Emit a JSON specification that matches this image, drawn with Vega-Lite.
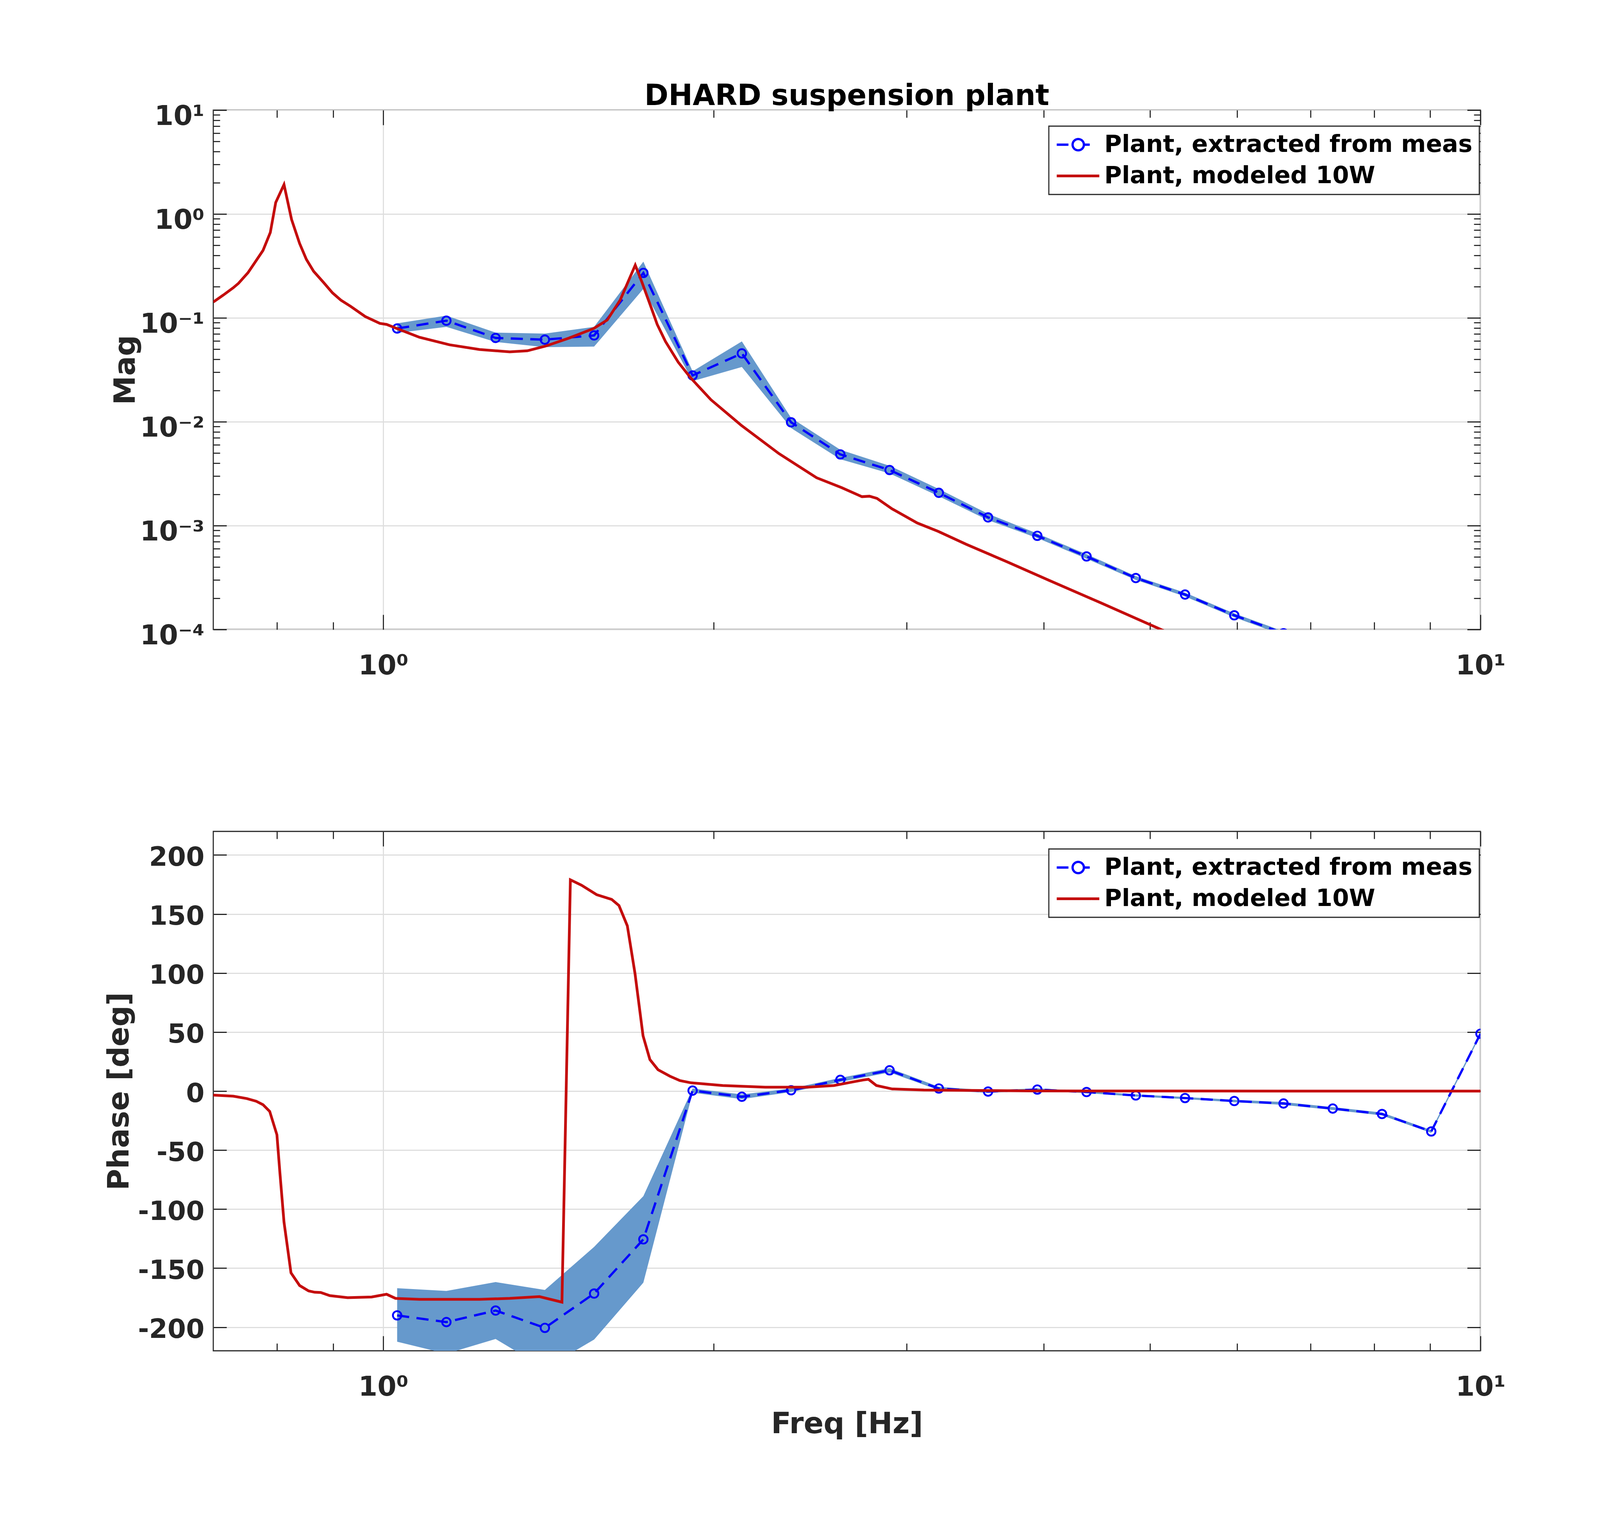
{
  "$schema": "https://vega.github.io/schema/vega-lite/v6.json",
  "autosize": {"type": "pad"},
  "padding": {"left": 266, "top": 208, "right": 332, "bottom": 207},
  "background": "#ffffff",
  "datasets": {
    "meas": [
      {"f": 1.0296, "mag": 0.079, "magLo": 0.0717, "magHi": 0.0885, "ph": -190, "phLo": -212.3, "phHi": -167},
      {"f": 1.1417, "mag": 0.094, "magLo": 0.082, "magHi": 0.105, "ph": -195.7, "phLo": -222.5, "phHi": -169.3},
      {"f": 1.266, "mag": 0.0641, "magLo": 0.0586, "magHi": 0.0722, "ph": -185.9, "phLo": -210, "phHi": -161.8},
      {"f": 1.4038, "mag": 0.0617, "magLo": 0.0523, "magHi": 0.0706, "ph": -200.6, "phLo": -235, "phHi": -168.5},
      {"f": 1.5566, "mag": 0.0678, "magLo": 0.0529, "magHi": 0.082, "ph": -171.5, "phLo": -210.5, "phHi": -132},
      {"f": 1.7261, "mag": 0.271, "magLo": 0.19, "magHi": 0.348, "ph": -125.6, "phLo": -162.3, "phHi": -89},
      {"f": 1.914, "mag": 0.0279, "magLo": 0.0246, "magHi": 0.0306, "ph": 0.4, "phLo": -1.4, "phHi": 2.2},
      {"f": 2.1224, "mag": 0.0455, "magLo": 0.0337, "magHi": 0.0593, "ph": -4.8, "phLo": -6.8, "phHi": -2.8},
      {"f": 2.3535, "mag": 0.00988, "magLo": 0.0087, "magHi": 0.0109, "ph": 0.7, "phLo": -0.8, "phHi": 2.2},
      {"f": 2.6097, "mag": 0.00485, "magLo": 0.00436, "magHi": 0.00537, "ph": 9.5, "phLo": 7.8, "phHi": 11.2},
      {"f": 2.8938, "mag": 0.00343, "magLo": 0.00318, "magHi": 0.00377, "ph": 17.6, "phLo": 15.8, "phHi": 19.4},
      {"f": 3.2089, "mag": 0.00207, "magLo": 0.00192, "magHi": 0.00225, "ph": 2.2, "phLo": 0.8, "phHi": 3.6},
      {"f": 3.5582, "mag": 0.0012, "magLo": 0.00113, "magHi": 0.0013, "ph": -0.4, "phLo": -1.5, "phHi": 0.7},
      {"f": 3.9456, "mag": 0.000798, "magLo": 0.00076, "magHi": 0.00084, "ph": 1.3, "phLo": 0.3, "phHi": 2.3},
      {"f": 4.3751, "mag": 0.000505, "magLo": 0.00048, "magHi": 0.00053, "ph": -0.8, "phLo": -1.7, "phHi": 0.1},
      {"f": 4.8514, "mag": 0.000313, "magLo": 0.0003, "magHi": 0.000327, "ph": -3.7, "phLo": -4.6, "phHi": -2.8},
      {"f": 5.3796, "mag": 0.000217, "magLo": 0.000208, "magHi": 0.000226, "ph": -5.9, "phLo": -6.8, "phHi": -5},
      {"f": 5.9652, "mag": 0.000137, "magLo": 0.000131, "magHi": 0.000143, "ph": -8.4, "phLo": -9.4, "phHi": -7.4},
      {"f": 6.6147, "mag": 0.000092, "magLo": 0.000088, "magHi": 0.000096, "ph": -10.5, "phLo": -11.7, "phHi": -9.3},
      {"f": 7.3348, "mag": 0.000062, "magLo": 0.000059, "magHi": 0.000065, "ph": -14.8, "phLo": -16, "phHi": -13.6},
      {"f": 8.1333, "mag": 0.000042, "magLo": 0.00004, "magHi": 0.000044, "ph": -19.4, "phLo": -20.6, "phHi": -18.2},
      {"f": 9.0187, "mag": 0.00003, "magLo": 0.000028, "magHi": 0.000032, "ph": -34.2, "phLo": -35.4, "phHi": -33},
      {"f": 10.0, "mag": 0.00002, "magLo": 0.000019, "magHi": 0.000021, "ph": 48.6, "phLo": 47.4, "phHi": 49.8}
    ],
    "modelMag": [
      {"f": 0.700, "mag": 0.142}, {"f": 0.715, "mag": 0.166}, {"f": 0.730, "mag": 0.195},
      {"f": 0.738, "mag": 0.215}, {"f": 0.753, "mag": 0.273}, {"f": 0.763, "mag": 0.335},
      {"f": 0.777, "mag": 0.446}, {"f": 0.789, "mag": 0.664}, {"f": 0.798, "mag": 1.29},
      {"f": 0.812, "mag": 1.92}, {"f": 0.825, "mag": 0.885}, {"f": 0.839, "mag": 0.521},
      {"f": 0.851, "mag": 0.366}, {"f": 0.864, "mag": 0.281}, {"f": 0.882, "mag": 0.220},
      {"f": 0.899, "mag": 0.174}, {"f": 0.915, "mag": 0.148}, {"f": 0.934, "mag": 0.129},
      {"f": 0.963, "mag": 0.103}, {"f": 0.993, "mag": 0.0885}, {"f": 1.007, "mag": 0.0865},
      {"f": 1.026, "mag": 0.080}, {"f": 1.079, "mag": 0.065}, {"f": 1.149, "mag": 0.0551},
      {"f": 1.224, "mag": 0.0496}, {"f": 1.304, "mag": 0.0471}, {"f": 1.353, "mag": 0.0482},
      {"f": 1.406, "mag": 0.0535}, {"f": 1.478, "mag": 0.0641}, {"f": 1.555, "mag": 0.079},
      {"f": 1.600, "mag": 0.0953}, {"f": 1.644, "mag": 0.148}, {"f": 1.672, "mag": 0.224},
      {"f": 1.697, "mag": 0.322}, {"f": 1.720, "mag": 0.224}, {"f": 1.750, "mag": 0.136},
      {"f": 1.777, "mag": 0.0865}, {"f": 1.808, "mag": 0.0593}, {"f": 1.857, "mag": 0.0375},
      {"f": 1.906, "mag": 0.0265}, {"f": 1.989, "mag": 0.0163}, {"f": 2.119, "mag": 0.00927},
      {"f": 2.294, "mag": 0.00494}, {"f": 2.483, "mag": 0.00289}, {"f": 2.617, "mag": 0.00232},
      {"f": 2.731, "mag": 0.0019}, {"f": 2.774, "mag": 0.00192}, {"f": 2.818, "mag": 0.00183},
      {"f": 2.909, "mag": 0.00145}, {"f": 3.067, "mag": 0.00106}, {"f": 3.205, "mag": 0.00088},
      {"f": 3.40, "mag": 0.00066}, {"f": 3.70, "mag": 0.00045}, {"f": 4.045, "mag": 0.000297},
      {"f": 4.5, "mag": 0.000182}, {"f": 5.115, "mag": 0.0001}, {"f": 6.5, "mag": 0.0000325},
      {"f": 8.0, "mag": 0.0000121}, {"f": 10.0, "mag": 0.0000044}
    ],
    "modelPhase": [
      {"f": 0.700, "ph": -3.4}, {"f": 0.730, "ph": -4.3}, {"f": 0.751, "ph": -6.3},
      {"f": 0.766, "ph": -8.6}, {"f": 0.777, "ph": -11.5}, {"f": 0.788, "ph": -17.2},
      {"f": 0.800, "ph": -37}, {"f": 0.805, "ph": -69}, {"f": 0.812, "ph": -111},
      {"f": 0.824, "ph": -154}, {"f": 0.839, "ph": -164.7}, {"f": 0.855, "ph": -169.3},
      {"f": 0.866, "ph": -170.4}, {"f": 0.877, "ph": -170.6}, {"f": 0.894, "ph": -173.3},
      {"f": 0.928, "ph": -175}, {"f": 0.976, "ph": -174.4}, {"f": 1.007, "ph": -172.1},
      {"f": 1.026, "ph": -175.6}, {"f": 1.079, "ph": -176.4}, {"f": 1.224, "ph": -176.4},
      {"f": 1.304, "ph": -175.6}, {"f": 1.388, "ph": -174.1}, {"f": 1.455, "ph": -178.8},
      {"f": 1.481, "ph": 179}, {"f": 1.516, "ph": 174.4}, {"f": 1.565, "ph": 166.4},
      {"f": 1.615, "ph": 162.4}, {"f": 1.640, "ph": 157.2}, {"f": 1.669, "ph": 140},
      {"f": 1.696, "ph": 99.8}, {"f": 1.725, "ph": 46.8}, {"f": 1.750, "ph": 26.7},
      {"f": 1.780, "ph": 18.1}, {"f": 1.825, "ph": 12.6}, {"f": 1.864, "ph": 8.9},
      {"f": 1.908, "ph": 7.0}, {"f": 2.039, "ph": 4.7}, {"f": 2.229, "ph": 3.3},
      {"f": 2.436, "ph": 3.3}, {"f": 2.575, "ph": 4.7}, {"f": 2.663, "ph": 7.3},
      {"f": 2.737, "ph": 9.4}, {"f": 2.768, "ph": 10.0}, {"f": 2.815, "ph": 4.7},
      {"f": 2.910, "ph": 1.8}, {"f": 3.11, "ph": 0.9}, {"f": 3.88, "ph": 0.2},
      {"f": 5.0, "ph": 0.05}, {"f": 10.0, "ph": 0}
    ]
  },
  "config": {
    "font": "DejaVu Sans",
    "view": {"stroke": "#262626", "strokeWidth": 2.8},
    "axis": {
      "labelFont": "DejaVu Sans", "labelFontWeight": "bold", "labelFontSize": 70, "labelColor": "#262626",
      "titleFont": "DejaVu Sans", "titleFontWeight": "bold", "titleFontSize": 75, "titleColor": "#262626",
      "tickColor": "#262626", "tickWidth": 2.8, "gridColor": "#dedede", "gridWidth": 2.8,
      "domain": false, "labelFlush": false, "labelOverlap": false, "labelBound": false, "labelLimit": 0
    }
  },
  "spacing": 517,
  "bounds": "flush",
  "resolve": {"scale": {"color": "independent"}, "legend": {"color": "independent"}},
  "vconcat": [
    {
      "width": 3244,
      "height": 1330,
      "title": {"text": "DHARD suspension plant", "font": "DejaVu Sans", "fontSize": 74, "fontWeight": "bold", "color": "#000000", "anchor": "middle", "frame": "group", "baseline": "alphabetic", "offset": -80},
      "resolve": {"axis": {"x": "independent", "y": "independent"}},
      "layer": [
        {
          "data": {"name": "meas"},
          "mark": {"type": "area", "color": "#6699cc", "opacity": 1, "clip": true},
          "encoding": {
            "x": {"field": "f", "type": "quantitative", "scale": {"type": "log", "domain": [0.7, 10], "nice": false},
              "axis": {"orient": "bottom", "title": null, "values": [0.8, 0.9, 1, 2, 3, 4, 5, 6, 7, 8, 9, 10],
                "labelExpr": "datum.value == 1 ? '10⁰' : datum.value == 10 ? '10¹' : ''",
                "grid": true, "gridOpacity": {"condition": {"test": "datum.value == 1 || datum.value == 10", "value": 1}, "value": 0},
                "tickSize": {"condition": {"test": "datum.value == 1 || datum.value == 10", "value": -38}, "value": -19},
                "labelPadding": 152, "labelBaseline": "alphabetic", "labelAlign": "center"}},
            "y": {"field": "magLo", "type": "quantitative", "scale": {"type": "log", "domain": [0.0001, 10], "nice": false},
              "axis": {"orient": "left", "title": "Mag", "titleX": -202, "titleY": 665, "titleAlign": "center", "titleBaseline": "alphabetic", "titleAngle": 270,
                "values": [0.0001, 0.0002, 0.0003, 0.0004, 0.0005, 0.0006, 0.0007, 0.0008, 0.0009, 0.001, 0.002, 0.003, 0.004, 0.005, 0.006, 0.007, 0.008, 0.009, 0.01, 0.02, 0.03, 0.04, 0.05, 0.06, 0.07, 0.08, 0.09, 0.1, 0.2, 0.3, 0.4, 0.5, 0.6, 0.7, 0.8, 0.9, 1, 2, 3, 4, 5, 6, 7, 8, 9, 10],
                "labelExpr": "datum.value == 10 ? '10¹' : datum.value == 1 ? '10⁰' : datum.value == 0.1 ? '10⁻¹' : datum.value == 0.01 ? '10⁻²' : datum.value == 0.001 ? '10⁻³' : datum.value == 0.0001 ? '10⁻⁴' : ''",
                "grid": true, "gridOpacity": {"condition": {"test": "indexof([0.0001, 0.001, 0.01, 0.1, 1, 10], datum.value) >= 0", "value": 1}, "value": 0},
                "tickSize": {"condition": {"test": "indexof([0.0001, 0.001, 0.01, 0.1, 1, 10], datum.value) >= 0", "value": -34}, "value": -17},
                "labelPadding": 57, "labelBaseline": "alphabetic", "labelOffset": 37}},
            "y2": {"field": "magHi"}
          }
        },
        {
          "data": {"name": "meas"},
          "mark": {"type": "line", "strokeDash": [31, 19], "strokeWidth": 5.8, "clip": true},
          "encoding": {
            "x": {"field": "f", "type": "quantitative", "scale": {"type": "log", "domain": [0.7, 10], "nice": false},
              "axis": {"orient": "top", "title": null, "labels": false, "grid": false, "values": [0.8, 0.9, 1, 2, 3, 4, 5, 6, 7, 8, 9, 10],
                "tickSize": {"condition": {"test": "datum.value == 1 || datum.value == 10", "value": -38}, "value": -19}}},
            "y": {"field": "mag", "type": "quantitative", "scale": {"type": "log", "domain": [0.0001, 10], "nice": false},
              "axis": {"orient": "right", "title": null, "labels": false, "grid": false,
                "values": [0.0001, 0.0002, 0.0003, 0.0004, 0.0005, 0.0006, 0.0007, 0.0008, 0.0009, 0.001, 0.002, 0.003, 0.004, 0.005, 0.006, 0.007, 0.008, 0.009, 0.01, 0.02, 0.03, 0.04, 0.05, 0.06, 0.07, 0.08, 0.09, 0.1, 0.2, 0.3, 0.4, 0.5, 0.6, 0.7, 0.8, 0.9, 1, 2, 3, 4, 5, 6, 7, 8, 9, 10],
                "tickSize": {"condition": {"test": "indexof([0.0001, 0.001, 0.01, 0.1, 1, 10], datum.value) >= 0", "value": -34}, "value": -17}}},
            "color": {"datum": "Plant, extracted from meas", "type": "nominal",
              "scale": {"domain": ["Plant, extracted from meas", "Plant, modeled 10W"], "range": ["#0000ff", "#c40d0d"]},
              "legend": {"orient": "none", "legendX": 2139, "legendY": 41, "title": null,
                "labelFont": "DejaVu Sans", "labelFontSize": 61, "labelFontWeight": "bold", "labelColor": "#000000", "labelLimit": 0,
                "labelOffset": 64, "symbolSize": 2970, "symbolStrokeWidth": 5.8, "symbolType": "M-1,0H3",
                "padding": 17, "rowPadding": 18, "strokeColor": "#262626", "fillColor": "#ffffff", "cornerRadius": 0,
                "encode": {
                  "legend": {"update": {"strokeWidth": {"value": 2.8}}},
                  "symbols": {"update": {
                    "shape": {"signal": "datum.value == 'Plant, modeled 10W' ? 'M-1,0H3' : 'M-1,0H0.1M0.49,0A0.53,0.53 0 1,1 1.55,0A0.53,0.53 0 1,1 0.49,0M1.55,0H2.1'"},
                    "stroke": {"signal": "datum.value == 'Plant, modeled 10W' ? '#c40d0d' : '#0000ff'"},
                    "strokeWidth": {"signal": "datum.value == 'Plant, modeled 10W' ? 7 : 5.8"},
                    "strokeDash": {"value": [1, 0]},
                    "fill": {"value": "transparent"},
                    "opacity": {"value": 1}}}}}}
          }
        },
        {
          "data": {"name": "meas"},
          "mark": {"type": "point", "shape": "circle", "filled": false, "color": "#0000ff", "size": 470, "strokeWidth": 4.7, "opacity": 1, "clip": true},
          "encoding": {
            "x": {"field": "f", "type": "quantitative", "scale": {"type": "log", "domain": [0.7, 10], "nice": false}, "axis": null},
            "y": {"field": "mag", "type": "quantitative", "scale": {"type": "log", "domain": [0.0001, 10], "nice": false}, "axis": null}
          }
        },
        {
          "data": {"name": "modelMag"},
          "mark": {"type": "line", "strokeWidth": 7, "clip": true},
          "encoding": {
            "x": {"field": "f", "type": "quantitative", "scale": {"type": "log", "domain": [0.7, 10], "nice": false}, "axis": null},
            "y": {"field": "mag", "type": "quantitative", "scale": {"type": "log", "domain": [0.0001, 10], "nice": false}, "axis": null},
            "color": {"datum": "Plant, modeled 10W", "type": "nominal"}
          }
        }
      ]
    },
    {
      "width": 3244,
      "height": 1330,
      "resolve": {"axis": {"x": "independent", "y": "independent"}},
      "layer": [
        {
          "data": {"name": "meas"},
          "mark": {"type": "area", "color": "#6699cc", "opacity": 1, "clip": true},
          "encoding": {
            "x": {"field": "f", "type": "quantitative", "scale": {"type": "log", "domain": [0.7, 10], "nice": false},
              "axis": {"orient": "bottom", "title": "Freq [Hz]", "titleY": 210, "titleBaseline": "alphabetic", "values": [0.8, 0.9, 1, 2, 3, 4, 5, 6, 7, 8, 9, 10],
                "labelExpr": "datum.value == 1 ? '10⁰' : datum.value == 10 ? '10¹' : ''",
                "grid": true, "gridOpacity": {"condition": {"test": "datum.value == 1 || datum.value == 10", "value": 1}, "value": 0},
                "tickSize": {"condition": {"test": "datum.value == 1 || datum.value == 10", "value": -38}, "value": -19},
                "labelPadding": 152, "labelBaseline": "alphabetic", "labelAlign": "center"}},
            "y": {"field": "phLo", "type": "quantitative", "scale": {"domain": [-220, 220], "nice": false, "zero": false},
              "axis": {"orient": "left", "title": "Phase [deg]", "titleX": -218, "titleY": 665, "titleAlign": "center", "titleBaseline": "alphabetic", "titleAngle": 270,
                "values": [-200, -150, -100, -50, 0, 50, 100, 150, 200], "labelExpr": "'' + datum.value",
                "grid": true, "tickSize": -34, "labelPadding": 57, "labelBaseline": "alphabetic", "labelOffset": 27, "labelFontSize": 68}},
            "y2": {"field": "phHi"}
          }
        },
        {
          "data": {"name": "meas"},
          "mark": {"type": "line", "strokeDash": [31, 19], "strokeWidth": 5.8, "clip": true},
          "encoding": {
            "x": {"field": "f", "type": "quantitative", "scale": {"type": "log", "domain": [0.7, 10], "nice": false},
              "axis": {"orient": "top", "title": null, "labels": false, "grid": false, "values": [0.8, 0.9, 1, 2, 3, 4, 5, 6, 7, 8, 9, 10],
                "tickSize": {"condition": {"test": "datum.value == 1 || datum.value == 10", "value": -38}, "value": -19}}},
            "y": {"field": "ph", "type": "quantitative", "scale": {"domain": [-220, 220], "nice": false, "zero": false},
              "axis": {"orient": "right", "title": null, "labels": false, "grid": false,
                "values": [-200, -150, -100, -50, 0, 50, 100, 150, 200], "tickSize": -34}},
            "color": {"datum": "Plant, extracted from meas", "type": "nominal",
              "scale": {"domain": ["Plant, extracted from meas", "Plant, modeled 10W"], "range": ["#0000ff", "#c40d0d"]},
              "legend": {"orient": "none", "legendX": 2139, "legendY": 45, "title": null,
                "labelFont": "DejaVu Sans", "labelFontSize": 61, "labelFontWeight": "bold", "labelColor": "#000000", "labelLimit": 0,
                "labelOffset": 64, "symbolSize": 2970, "symbolStrokeWidth": 5.8, "symbolType": "M-1,0H3",
                "padding": 17, "rowPadding": 18, "strokeColor": "#262626", "fillColor": "#ffffff", "cornerRadius": 0,
                "encode": {
                  "legend": {"update": {"strokeWidth": {"value": 2.8}}},
                  "symbols": {"update": {
                    "shape": {"signal": "datum.value == 'Plant, modeled 10W' ? 'M-1,0H3' : 'M-1,0H0.1M0.49,0A0.53,0.53 0 1,1 1.55,0A0.53,0.53 0 1,1 0.49,0M1.55,0H2.1'"},
                    "stroke": {"signal": "datum.value == 'Plant, modeled 10W' ? '#c40d0d' : '#0000ff'"},
                    "strokeWidth": {"signal": "datum.value == 'Plant, modeled 10W' ? 7 : 5.8"},
                    "strokeDash": {"value": [1, 0]},
                    "fill": {"value": "transparent"},
                    "opacity": {"value": 1}}}}}}
          }
        },
        {
          "data": {"name": "meas"},
          "mark": {"type": "point", "shape": "circle", "filled": false, "color": "#0000ff", "size": 470, "strokeWidth": 4.7, "opacity": 1, "clip": true},
          "encoding": {
            "x": {"field": "f", "type": "quantitative", "scale": {"type": "log", "domain": [0.7, 10], "nice": false}, "axis": null},
            "y": {"field": "ph", "type": "quantitative", "scale": {"domain": [-220, 220], "nice": false, "zero": false}, "axis": null}
          }
        },
        {
          "data": {"name": "modelPhase"},
          "mark": {"type": "line", "strokeWidth": 7, "clip": true},
          "encoding": {
            "x": {"field": "f", "type": "quantitative", "scale": {"type": "log", "domain": [0.7, 10], "nice": false}, "axis": null},
            "y": {"field": "ph", "type": "quantitative", "scale": {"domain": [-220, 220], "nice": false, "zero": false}, "axis": null},
            "color": {"datum": "Plant, modeled 10W", "type": "nominal"}
          }
        }
      ]
    }
  ]
}
